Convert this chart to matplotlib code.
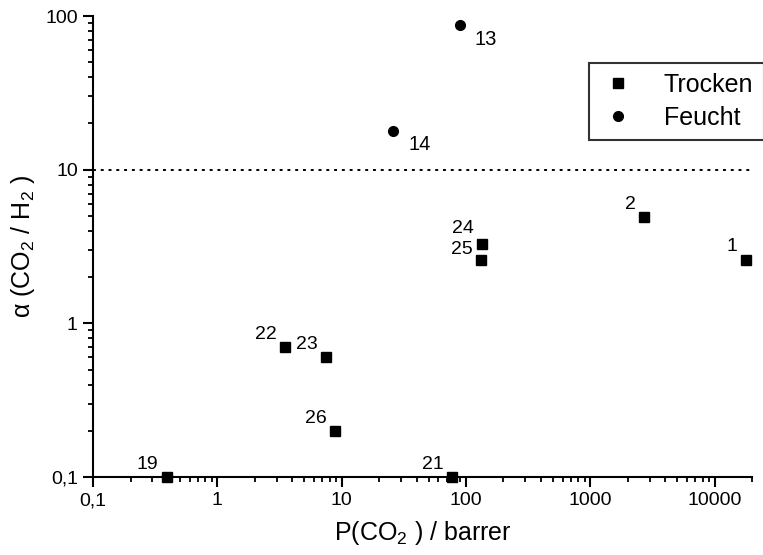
import matplotlib
matplotlib.use('Agg')
import matplotlib.pyplot as plt
from matplotlib.ticker import FixedLocator, LogLocator, FuncFormatter, NullFormatter

plt.rcParams['font.family'] = ['Liberation Sans', 'DejaVu Sans']
plt.rcParams['mathtext.fontset'] = 'custom'
plt.rcParams['mathtext.rm'] = 'Liberation Sans'
plt.rcParams['mathtext.it'] = 'Liberation Sans:italic'

# Trocken (dry) data points
trocken_labels = ['1', '2', '19', '21', '22', '23', '24', '25', '26']
trocken_x = [17900, 2700, 0.39, 77, 3.5, 7.5, 135, 132, 8.9]
trocken_y = [2.6, 4.9, 0.1, 0.1, 0.7, 0.6, 3.3, 2.6, 0.2]

# Feucht (humid) data points
feucht_labels = ['13', '14']
feucht_x = [89, 26]
feucht_y = [87, 17.8]

x_ticks = [0.1, 1, 10, 100, 1000, 10000]
y_ticks = [0.1, 1, 10, 100]
threshold = 10

# label nudges (points) where the default would collide
nudge = {'24': (-6, 5), '25': (-6, 1.5)}


def comma_fmt(v, pos):
    s = ('%g' % v) if v < 1 else '%d' % round(v)
    return s.replace('.', ',')


fig = plt.figure(figsize=(7.63, 5.55), dpi=100)
ax = fig.add_axes([0.122, 0.1405, 0.8636, 0.8305])

ax.set_xscale('log')
ax.set_yscale('log')
ax.set_xlim(0.1, 20000)
ax.set_ylim(0.1, 100)

# Threshold line
ax.axhline(threshold, color='black', linestyle=(0, (1.5, 2.5)), linewidth=1.4, zorder=1)

ax.plot(trocken_x, trocken_y, linestyle='none', marker='s', markersize=7.5,
        color='black', clip_on=False, label='Trocken', zorder=3)
ax.plot(feucht_x, feucht_y, linestyle='none', marker='o', markersize=7,
        color='black', clip_on=False, label='Feucht', zorder=3)

for lab, x, y in zip(trocken_labels, trocken_x, trocken_y):
    ax.annotate(lab, (x, y), xytext=nudge.get(lab, (-6, 3)),
                textcoords='offset points', ha='right', va='bottom',
                fontsize=14, annotation_clip=False)
for lab, x, y in zip(feucht_labels, feucht_x, feucht_y):
    ax.annotate(lab, (x, y), xytext=(11, -3), textcoords='offset points',
                ha='left', va='top', fontsize=14.5, annotation_clip=False)

ax.xaxis.set_major_locator(FixedLocator(x_ticks))
ax.yaxis.set_major_locator(FixedLocator(y_ticks))
ax.xaxis.set_minor_locator(LogLocator(base=10, subs=range(2, 10), numticks=20))
ax.yaxis.set_minor_locator(LogLocator(base=10, subs=range(2, 10), numticks=20))
ax.xaxis.set_major_formatter(FuncFormatter(comma_fmt))
ax.yaxis.set_major_formatter(FuncFormatter(comma_fmt))
ax.xaxis.set_minor_formatter(NullFormatter())
ax.yaxis.set_minor_formatter(NullFormatter())

for side in ['top', 'right']:
    ax.spines[side].set_visible(False)
for side in ['left', 'bottom']:
    ax.spines[side].set_linewidth(1.5)

ax.tick_params(which='major', direction='out', length=7, width=1.5,
               labelsize=14, pad=4)
ax.tick_params(which='minor', direction='out', length=3.5, width=1.3)

ax.set_xlabel(r'P(CO$_2$ ) / barrer', fontsize=18, labelpad=7)
ax.set_ylabel('α (CO$_2$ / H$_2$ )', fontsize=18, labelpad=6)

leg = ax.legend(loc='upper left', bbox_to_anchor=(589 / 763, 1 - 63 / 555),
                bbox_transform=fig.transFigure, fontsize=18, frameon=True,
                fancybox=False, edgecolor='black', borderpad=0.4,
                handletextpad=1.1, markerscale=1.0, handlelength=1.5,
                borderaxespad=0, labelspacing=0.35)
leg.get_frame().set_linewidth(1.5)
leg.set_clip_on(False)

fig.savefig('out.png', dpi=100)
